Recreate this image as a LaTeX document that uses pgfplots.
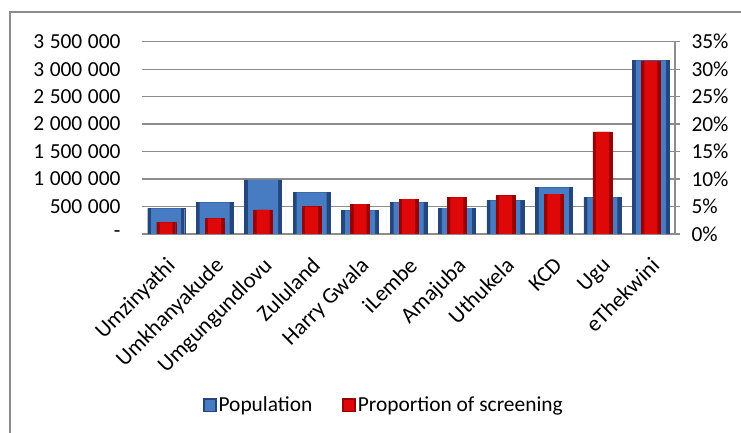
\documentclass[border=0pt]{standalone}
\usepackage{fontspec}
\setmainfont{Carlito}
\usepackage{pgfplots}
\usepackage{pgfplotstable}
\pgfplotsset{compat=1.18}

% district population and share of screening (percent)
\pgfplotstableread{
idx pop pct
0 467000 2.1
1 577000 2.85
2 983000 4.37
3 758000 4.97
4 431000 5.46
5 577000 6.37
6 473000 6.67
7 613000 6.98
8 849000 7.28
9 667000 18.6
10 3160000 31.5
}\districts

\definecolor{popmid}{RGB}{72,124,194}
\definecolor{popedge}{RGB}{36,70,125}
\definecolor{scrmid}{RGB}{222,8,8}
\definecolor{scredge}{RGB}{150,0,0}
\definecolor{gridgray}{RGB}{140,140,140}

\newcommand{\chartfont}{\fontsize{21.5}{25}\selectfont}
\newcommand{\catfont}{\fontsize{22.5}{27}\selectfont}

\pgfplotsset{
  popleg/.style={legend image code/.code={
    \fill[popedge] (0bp,-6.5bp) rectangle (13bp,6.5bp);
    \fill[popmid] (2bp,-5bp) rectangle (11bp,4.5bp);}},
  scrleg/.style={legend image code/.code={
    \fill[scredge] (0bp,-6.5bp) rectangle (13bp,6.5bp);
    \fill[scrmid] (2bp,-5bp) rectangle (11bp,4.5bp);}},
  chartbase/.style={
    scale only axis, width=533bp, height=192.3bp,
    at={(142bp,199bp)}, anchor=south west,
    xmin=-0.5, xmax=10.5,
    font=\chartfont,
    scaled y ticks=false,
    /pgf/number format/assume math mode=true,
  },
}

\begin{document}
\begin{tikzpicture}
\path[use as bounding box] (0,0) rectangle (741bp,433bp);
\draw[gridgray, line width=1.5bp] (10bp,0) -- (10bp,421bp) -- (742bp,421bp);

% population on the left axis
\begin{axis}[chartbase,
  ymin=0, ymax=3500000,
  ytick={0,500000,...,3500000},
  yticklabels={-,500\hspace{0.26em}000,1\hspace{0.26em}000\hspace{0.26em}000,1\hspace{0.26em}500\hspace{0.26em}000,2\hspace{0.26em}000\hspace{0.26em}000,2\hspace{0.26em}500\hspace{0.26em}000,3\hspace{0.26em}000\hspace{0.26em}000,3\hspace{0.26em}500\hspace{0.26em}000},
  axis x line*=bottom, axis y line*=left,
  y axis line style={draw=none},
  x axis line style={draw=gridgray, line width=1.3bp},
  ymajorgrids, grid style={gridgray, line width=1.3bp},
  major tick length=0pt,
  yticklabel style={font=\chartfont, anchor=east, xshift=-18bp},
  xtick=data,
  xticklabels={Umzinyathi,Umkhanyakude,Umgungundlovu,Zululand,Harry Gwala,iLembe,Amajuba,Uthukela,KCD,Ugu,eThekwini},
  xticklabel style={font=\catfont, xshift=-1bp, yshift=-19bp, rotate=45, anchor=north east, inner sep=2bp},
]
% dark rim, then the lighter face of each bar
\addplot[ybar, bar width=37bp, fill=popedge, draw=popedge] table[x=idx, y=pop] {\districts};
\addplot[ybar, bar width=30bp, fill=popmid, draw=none] table[x=idx, y=pop] {\districts};
\end{axis}

% share of screening on the right axis
\begin{axis}[chartbase,
  ymin=0, ymax=35,
  ytick={0,5,...,35},
  yticklabels={0\%,5\%,10\%,15\%,20\%,25\%,30\%,35\%},
  axis x line=none, axis y line*=right,
  y axis line style={draw=gridgray, line width=1.3bp},
  ytick style={draw=gridgray, line width=1.3bp},
  tick align=outside, major tick length=5bp,
  yticklabel style={font=\chartfont, anchor=west, xshift=8bp},
  legend style={at={(0.454,-0.889)}, anchor=center, draw=none, fill=none,
    font=\chartfont, legend columns=2,
    /tikz/every even column/.append style={column sep=28bp}},
  legend cell align=left,
]
\addlegendimage{popleg}
\addlegendentry{Population}
\addlegendimage{scrleg}
\addlegendentry{Proportion of screening}
\addplot[ybar, bar width=19bp, fill=scredge, draw=scredge, forget plot] table[x=idx, y=pct] {\districts};
\addplot[ybar, bar width=13bp, fill=scrmid, draw=none, forget plot] table[x=idx, y=pct] {\districts};
\end{axis}
\end{tikzpicture}
\end{document}
